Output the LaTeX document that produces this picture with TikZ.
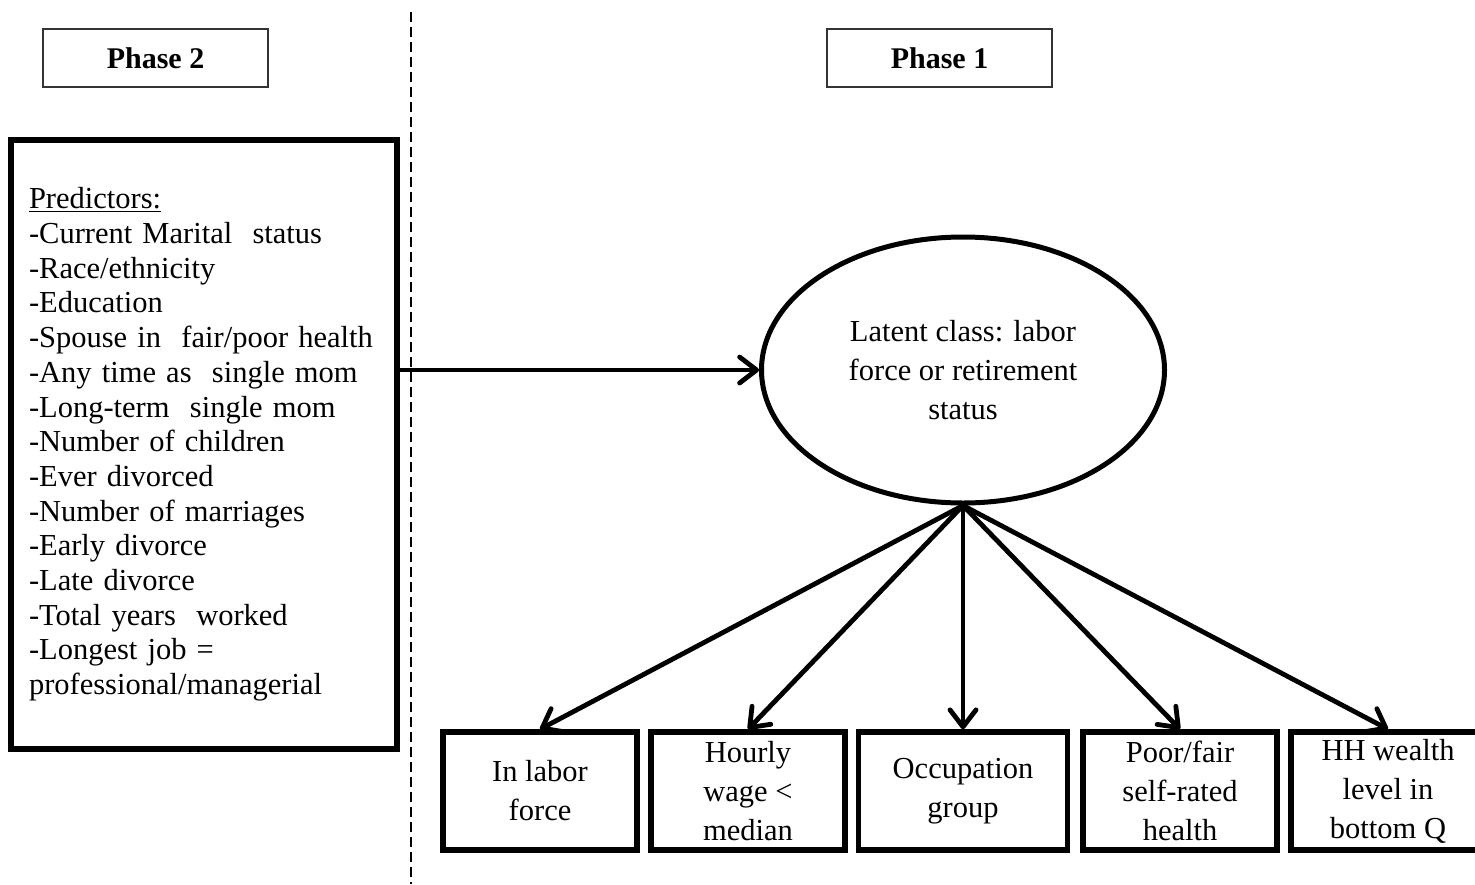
\documentclass[tikz,border=0pt]{standalone}
\usepackage{fontspec}
\setmainfont{Liberation Serif}
\usetikzlibrary{shapes.geometric,arrows.meta}
\begin{document}
\begin{tikzpicture}[x=1pt,y=-1pt,
  phasebox/.style={draw=black!80,line width=2pt,minimum width=225pt,minimum height=58pt,inner sep=0pt,font=\fontsize{30}{34}\selectfont\bfseries},
  predbox/.style={draw,line width=5.5pt,minimum width=386pt,minimum height=609pt,inner xsep=18pt,text width=350pt,align=left,font=\fontsize{30.5}{34.7}\selectfont},
  latent/.style={draw,ellipse,line width=5pt,minimum width=403pt,minimum height=266pt,inner sep=0pt,align=center,font=\fontsize{30.5}{39}\selectfont},
  indbox/.style={draw,line width=5.5pt,minimum width=194pt,minimum height=118pt,inner sep=0pt,align=center,font=\fontsize{30.5}{39}\selectfont},
  arr/.style={line width=4.8pt,-{Straight Barb[length=17pt,width=26pt,line width=4.8pt,round]}},
  divider/.style={line width=1.8pt,dash pattern=on 10pt off 5pt}]
\useasboundingbox (0,0) rectangle (1475,884);
\fill[white] (0,0) rectangle (1475,884);
% divider
\coordinate (dtop) at (411,12);
\coordinate (dbot) at (411,884);
\draw[divider] (dtop) -- (dbot);
% phase labels
\node[phasebox] (ph2) at (155.5,58) {Phase 2};
\node[phasebox] (ph1) at (939.5,58) {Phase 1};
% predictors
\node[predbox] (pred) at (204,444.5) {\underline{Predictors:}\\
-Current Marital\ \ status\\
-Race/ethnicity\\
-Education\\
-Spouse in\ \ fair/poor health\\
-Any time as\ \ single mom\\
-Long-term\ \ single mom\\
-Number of children\\
-Ever divorced\\
-Number of marriages\\
-Early divorce\\
-Late divorce\\
-Total years\ \ worked\\
-Longest job =\\
professional/managerial};
% latent class
\node[latent] (lat) at (963,370) {Latent class: labor\\force or retirement\\status};
% indicators
\node[indbox] (b1) at (540,791) {In labor\\force};
\node[indbox] (b2) at (748,791) {Hourly\\wage <\\median};
\node[indbox, minimum width=209pt] (b3) at (963,791) {Occupation\\group};
\node[indbox] (b4) at (1180,791) {Poor/fair\\self-rated\\health};
\node[indbox] (b5) at (1388,791) {HH wealth\\level in\\bottom Q};
% arrows
\draw[arr] (pred.east |- lat.west) -- (lat.west);
\foreach \b in {b1,b2,b3,b4,b5}
  \draw[arr] (lat.south) -- (\b.north);
\end{tikzpicture}
\end{document}
